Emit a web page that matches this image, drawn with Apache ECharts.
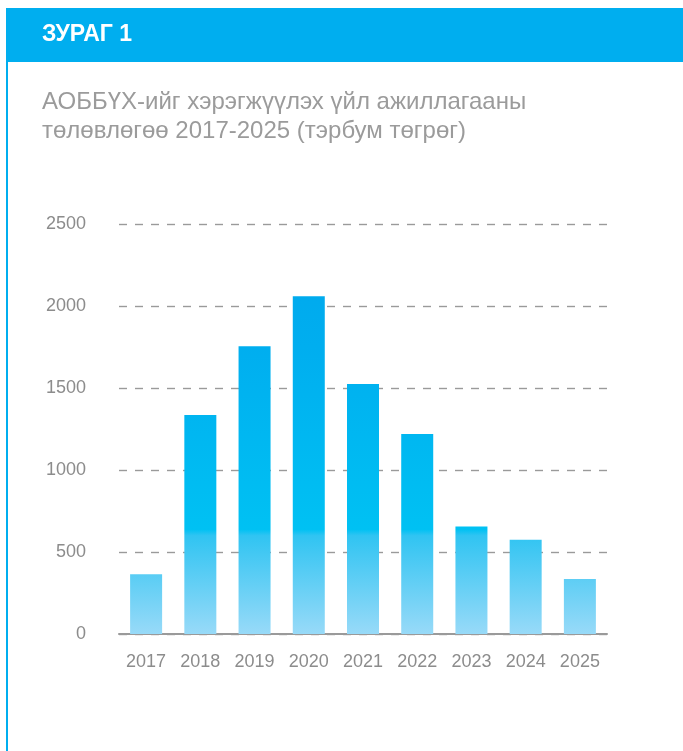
<!DOCTYPE html>
<html>
<head>
<meta charset="utf-8">
<script src="https://cdn.jsdelivr.net/npm/echarts@6/dist/echarts.min.js"></script>
<style>
html,body{margin:0;padding:0;background:#fff;}
#c{width:683px;height:751px;}
</style>
</head>
<body>
<div id="c"></div>
<script>
const headerText = 'ЗУРАГ 1';
const titleLines = ['АОББҮХ-ийг хэрэгжүүлэх үйл ажиллагааны', 'төлөвлөгөө 2017-2025 (тэрбум төгрөг)'];
const years = ['2017','2018','2019','2020','2021','2022','2023','2024','2025'];
const values = [365, 1335, 1755, 2060, 1525, 1220, 655, 575, 335];
const yTicks = {min: 0, max: 2500, interval: 500};

const chart = echarts.init(document.getElementById('c'), null, {renderer: 'canvas'});
const font = '"Liberation Sans", Arial, sans-serif';
const barGradient = new echarts.graphic.LinearGradient(0, 224, 0, 634, [
  {offset: 0, color: '#00A6EC'},
  {offset: 0.30, color: '#00AEEF'},
  {offset: 0.745, color: '#00C1F3'},
  {offset: 0.76, color: '#30C4F2'},
  {offset: 1, color: '#98DAF8'}
], true);

chart.setOption({
  animation: false,
  backgroundColor: '#fff',
  graphic: [
    {type: 'rect', shape: {x: 6, y: 8, width: 677, height: 54}, style: {fill: '#00AEEF'}},
    {type: 'rect', shape: {x: 6, y: 8, width: 2, height: 743}, style: {fill: '#00AEEF'}},
    {type: 'text', left: 42, top: 23, style: {text: headerText, fill: '#fff', font: 'bold 23px "Liberation Sans Narrow", "Liberation Sans", Arial, sans-serif'}},
    {type: 'text', left: 42, top: 88, style: {text: titleLines.join('\n'), fill: '#9B9B9B', font: '24px ' + font, lineHeight: 29}}
  ],
  grid: {left: 119, right: 76, top: 224, bottom: 117},
  xAxis: {
    type: 'category',
    data: years,
    axisLine: {show: true, lineStyle: {color: '#9a9a9a', width: 2}},
    axisTick: {show: false},
    axisLabel: {color: '#8c8c8c', fontSize: 18, fontFamily: font, margin: 19}
  },
  yAxis: {
    type: 'value',
    min: yTicks.min, max: yTicks.max, interval: yTicks.interval,
    axisLine: {show: false},
    axisTick: {show: false},
    axisLabel: {color: '#8c8c8c', fontSize: 18, fontFamily: font, margin: 33, formatter: v => String(v)},
    splitLine: {lineStyle: {color: '#9a9a9a', width: 1.4, type: [8, 8]}}
  },
  series: [{
    type: 'bar',
    data: values,
    barWidth: 32,
    itemStyle: {color: barGradient}
  }]
});
</script>
</body>
</html>
